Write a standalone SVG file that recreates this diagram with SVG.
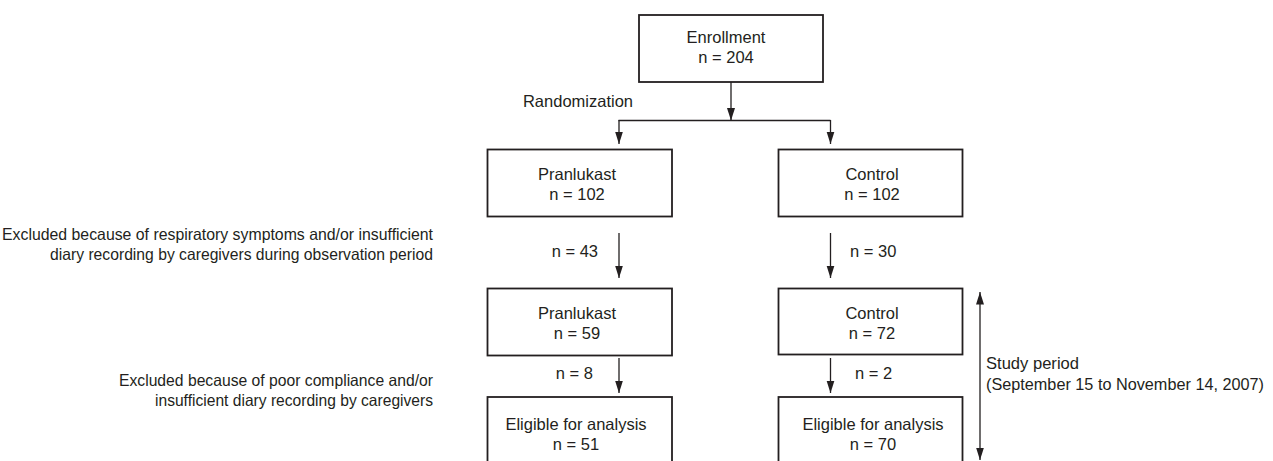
<svg xmlns="http://www.w3.org/2000/svg" width="1273" height="461" viewBox="0 0 1273 461">
<style>
  text { font-family: "Liberation Sans", Arial, sans-serif; font-size: 16.5px; fill: #231f20; }
  .c { text-anchor: middle; }
  .r { text-anchor: end; }
  .box { fill: #ffffff; stroke: #231f20; stroke-width: 1.8; }
  .ln { fill: none; stroke: #231f20; stroke-width: 1.3; }
</style>
<defs>
  <marker id="ah" markerUnits="userSpaceOnUse" markerWidth="13" markerHeight="9" viewBox="0 0 13 9" refX="12.5" refY="4.5" orient="auto-start-reverse">
    <path d="M0,0.5 L12.5,4.5 L0,8.5 z" fill="#231f20"/>
  </marker>
</defs>
<rect width="1273" height="461" fill="#ffffff"/>

<g id="connectors">
  <line class="ln" x1="731" y1="82" x2="731" y2="120.5" marker-end="url(#ah)"/>
  <line class="ln" x1="618.5" y1="120.5" x2="830.5" y2="120.5"/>
  <line class="ln" x1="619" y1="120" x2="619" y2="144" marker-end="url(#ah)"/>
  <line class="ln" x1="830.5" y1="120" x2="830.5" y2="144" marker-end="url(#ah)"/>
  <line class="ln" x1="619" y1="233" x2="619" y2="278" marker-end="url(#ah)"/>
  <line class="ln" x1="830.5" y1="233" x2="830.5" y2="278" marker-end="url(#ah)"/>
  <line class="ln" x1="619" y1="358" x2="619" y2="393" marker-end="url(#ah)"/>
  <line class="ln" x1="830.5" y1="358" x2="830.5" y2="393" marker-end="url(#ah)"/>
  <line class="ln" x1="980" y1="292" x2="980" y2="460" marker-start="url(#ah)" marker-end="url(#ah)"/>
</g>

<g id="enrollment">
  <rect class="box" x="639" y="15" width="184" height="67"/>
  <text class="c" x="726" y="43">Enrollment</text>
  <text class="c" x="726" y="63">n = 204</text>
</g>

<g id="randomization-label">
  <text class="r" x="633" y="107">Randomization</text>
</g>

<g id="pranlukast-102">
  <rect class="box" x="487.5" y="149.5" width="184.5" height="67"/>
  <text class="c" x="577" y="180">Pranlukast</text>
  <text class="c" x="577" y="200">n = 102</text>
</g>

<g id="control-102">
  <rect class="box" x="778.5" y="149.5" width="184" height="67"/>
  <text class="c" x="872" y="180">Control</text>
  <text class="c" x="872" y="200">n = 102</text>
</g>

<g id="exclusion-1">
  <text class="r" x="433" y="240" textLength="431" lengthAdjust="spacingAndGlyphs">Excluded because of respiratory symptoms and/or insufficient</text>
  <text class="r" x="433" y="260" textLength="383" lengthAdjust="spacingAndGlyphs">diary recording by caregivers during observation period</text>
  <text class="r" x="598" y="257">n = 43</text>
  <text x="850" y="257">n = 30</text>
</g>

<g id="pranlukast-59">
  <rect class="box" x="487.5" y="288.5" width="184.5" height="67"/>
  <text class="c" x="577" y="319">Pranlukast</text>
  <text class="c" x="577" y="339">n = 59</text>
</g>

<g id="control-72">
  <rect class="box" x="778.5" y="288.5" width="184" height="66"/>
  <text class="c" x="872" y="319">Control</text>
  <text class="c" x="872" y="339">n = 72</text>
</g>

<g id="exclusion-2">
  <text class="r" x="433" y="386" textLength="314" lengthAdjust="spacingAndGlyphs">Excluded because of poor compliance and/or</text>
  <text class="r" x="433" y="406" textLength="278" lengthAdjust="spacingAndGlyphs">insufficient diary recording by caregivers</text>
  <text class="r" x="593" y="379">n = 8</text>
  <text x="855" y="379">n = 2</text>
</g>

<g id="eligible-51">
  <rect class="box" x="487.5" y="397" width="184.5" height="70"/>
  <text class="c" x="576" y="430">Eligible for analysis</text>
  <text class="c" x="576" y="450">n = 51</text>
</g>

<g id="eligible-70">
  <rect class="box" x="778.5" y="397" width="184" height="70"/>
  <text class="c" x="873" y="430">Eligible for analysis</text>
  <text class="c" x="873" y="450">n = 70</text>
</g>

<g id="study-period">
  <text x="986" y="369" textLength="93" lengthAdjust="spacingAndGlyphs">Study period</text>
  <text x="986" y="390" textLength="278" lengthAdjust="spacingAndGlyphs">(September 15 to November 14, 2007)</text>
</g>
</svg>
